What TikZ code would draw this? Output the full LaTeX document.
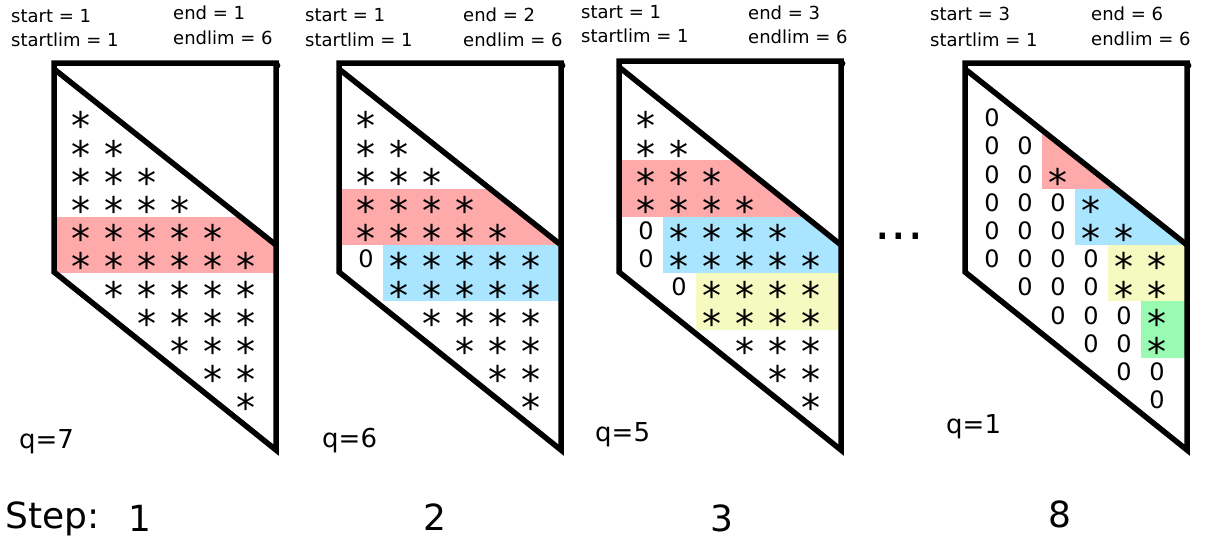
\documentclass[tikz,border=0pt]{standalone}
\usepackage{fontspec}
\setmainfont{DejaVu Sans}
\definecolor{bandred}{RGB}{255,170,170}
\definecolor{bandblue}{RGB}{170,229,255}
\definecolor{bandyellow}{RGB}{245,250,192}
\definecolor{bandgreen}{RGB}{153,250,178}
\newcommand{\mkband}[4]{%
  \pgfmathsetmacro{\bxa}{ifthenelse(#3==1,#1,#1+10.5+33*(#3-1))}%
  \pgfmathsetmacro{\bxb}{#1+222}%
  \pgfmathsetmacro{\bya}{118+28.2*(#2-1)-14.1}%
  \pgfmathsetmacro{\byb}{118+28.2*(#2)+14.1}%
  \fill[#4] (\bxa,\bya) rectangle (\bxb,\byb);%
}
\newcommand{\starglyph}{\raisebox{-0.39em}[0.37em][0pt]{*}}
\newcommand{\mkcells}[3]{%
  \foreach \sv [count=\ri] in {#3} {
    \pgfmathtruncatemacro{\cmin}{max(1,\ri-5)}
    \pgfmathtruncatemacro{\cmax}{min(\ri,6)}
    \pgfmathsetmacro{\cy}{118+28.2*(\ri-1)}
    \foreach \ci in {\cmin,...,\cmax} {
      \pgfmathsetmacro{\cx}{#2+27+33*(\ci-1)}
      \ifnum\ci<\sv\relax
        \node[zerocell] (#1-\ri-\ci) at (\cx,\cy) {0};
      \else
        \node[starcell] (#1-\ri-\ci) at (\cx,\cy) {\starglyph};
      \fi
    }
  }%
}
\newcommand{\mkclip}[2]{%
  \pgfmathsetmacro{\kxr}{#1+222}%
  \clip (#1,#2+6) -- (\kxr,245) -- (\kxr,450) -- (#1,272) -- cycle;%
}
\newcommand{\mkframe}[2]{%
  \pgfmathsetmacro{\fxr}{#1+222}%
  \draw[frame] (\fxr,450) -- (\fxr,#2) -- (#1,#2) -- (#1,272) -- cycle;
  \draw[frame] (#1,#2+6) -- (\fxr,245);
  \fill ({\fxr+1},{#2+2.5}) circle (3.4);%
}
\begin{document}
\begin{tikzpicture}[x=1pt,y=-1pt,
  frame/.style={line width=5.5pt, line join=miter},
  lbl/.style={font=\fontsize{18}{20}\selectfont, anchor=base west, inner sep=0pt},
  qlbl/.style={font=\fontsize{26}{28}\selectfont, anchor=base west, inner sep=0pt},
  steplbl/.style={font=\fontsize{36}{40}\selectfont, anchor=base, inner sep=0pt},
  starcell/.style={font=\fontsize{38}{38}\selectfont, inner sep=0pt},
  zerocell/.style={font=\fontsize{24}{24}\selectfont, inner sep=0pt},
]
\useasboundingbox (0,0) rectangle (1208,539);

% ---- panel 1 ----
\begin{scope}
  \mkclip{54}{63}
  \mkband{54}{5}{1}{bandred}
\end{scope}
\mkcells{A}{54}{1,1,1,1,1,1,2,3,4,5,6}
\mkframe{54}{63}
\node[lbl] (A-start) at (11,22) {start = 1};
\node[lbl] (A-slim) at (11,46) {startlim = 1};
\node[lbl] (A-end) at (173,19) {end = 1};
\node[lbl] (A-elim) at (173,44) {endlim = 6};
\node[qlbl] (A-q) at (19,448) {q=7};

% ---- panel 2 ----
\begin{scope}
  \mkclip{339}{63}
  \mkband{339}{4}{1}{bandred}
  \mkband{339}{6}{2}{bandblue}
\end{scope}
\mkcells{B}{339}{1,1,1,1,1,2,2,3,4,5,6}
\mkframe{339}{63}
\node[lbl] (B-start) at (305,21) {start = 1};
\node[lbl] (B-slim) at (305,46) {startlim = 1};
\node[lbl] (B-end) at (463,21) {end = 2};
\node[lbl] (B-elim) at (463,46) {endlim = 6};
\node[qlbl] (B-q) at (322,447) {q=6};

% ---- panel 3 ----
\begin{scope}
  \mkclip{619}{61}
  \mkband{619}{3}{1}{bandred}
  \mkband{619}{5}{2}{bandblue}
  \mkband{619}{7}{3}{bandyellow}
\end{scope}
\mkcells{C}{619}{1,1,1,1,2,2,3,3,4,5,6}
\mkframe{619}{61}
\node[lbl] (C-start) at (581,18) {start = 1};
\node[lbl] (C-slim) at (581,42) {startlim = 1};
\node[lbl] (C-end) at (748,19) {end = 3};
\node[lbl] (C-elim) at (748,43) {endlim = 6};
\node[qlbl] (C-q) at (595,441) {q=5};

% ---- panel 4 ----
\begin{scope}
  \mkclip{965}{63}
  \mkband{965}{2}{3}{bandred}
  \mkband{965}{4}{4}{bandblue}
  \mkband{965}{6}{5}{bandyellow}
  \mkband{965}{8}{6}{bandgreen}
\end{scope}
\mkcells{D}{965}{7,7,3,4,4,5,5,6,6,7,7}
\mkframe{965}{63}
\node[lbl] (D-start) at (930,20.5) {start = 3};
\node[lbl] (D-slim) at (930,46) {startlim = 1};
\node[lbl] (D-end) at (1091,20.5) {end = 6};
\node[lbl] (D-elim) at (1091,45) {endlim = 6};
\node[qlbl] (D-q) at (946,433) {q=1};

% ---- dots and steps ----
\node[font=\fontsize{52}{52}\selectfont, anchor=base, inner sep=0pt] (dots) at (899,239) {...};
\node[font=\fontsize{36}{40}\selectfont, anchor=base west, inner sep=0pt] (steptxt) at (5,528) {Step:};
\node[steplbl] (st1) at (140,531) {1};
\node[steplbl] (st2) at (435,530) {2};
\node[steplbl] (st3) at (722,531) {3};
\node[steplbl] (st8) at (1060,527) {8};
\end{tikzpicture}
\end{document}
